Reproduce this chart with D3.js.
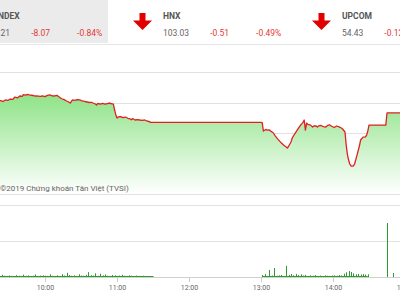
<!DOCTYPE html>
<html>
<head>
<meta charset="utf-8">
<script src="https://cdn.jsdelivr.net/npm/d3@7"></script>
<style>
  body { margin: 0; background: #fff; }
  svg { display: block; font-family: Roboto, "Noto Sans", sans-serif; }
</style>
</head>
<body>
<div id="chart"></div>
<script>
// header
const indexNames = ["VNINDEX", "HNX", "UPCOM"];
const indexValues = ["952.21", "103.03", "54.43"];
const indexChanges = ["-8.07", "-0.51", "-0.12"];
const indexPercents = ["-0.84%", "-0.49%", "-0.22%"];

// price line
const priceTimes = ["09:15","09:20","09:23","09:25","09:27","09:29","09:31","09:33","09:35","09:37",
  "09:39","09:41","09:42","09:44","09:45","09:47","09:50","09:52","09:53","09:56",
  "09:58","10:00","10:02","10:04","10:06","10:08","10:10","10:11","10:13","10:14",
  "10:16","10:18","10:19","10:21","10:22","10:23","10:25","10:27","10:29","10:31",
  "10:33","10:35","10:37","10:39","10:40","10:42","10:43","10:44","10:46","10:48",
  "10:50","10:52","10:54","10:55","10:57","10:58","10:59","11:00","11:01","11:03",
  "11:05","11:07","11:09","11:11","11:12","11:13","11:15","11:17","11:19","11:21",
  "11:23","11:25","11:27","11:28","11:30","13:00","13:01","13:02","13:04","13:05",
  "13:07","13:08","13:10","13:12","13:14","13:17","13:19","13:21","13:22","13:23",
  "13:25","13:26","13:28","13:31","13:33","13:35","13:36","13:37","13:38","13:39",
  "13:41","13:43","13:44","13:46","13:47","13:48","13:50","13:52","13:54","13:55",
  "13:57","13:59","14:01","14:03","14:05","14:07","14:08","14:10","14:11","14:12",
  "14:13","14:14","14:15","14:17","14:18","14:20","14:22","14:23","14:25","14:27",
  "14:28","14:29","14:30","14:44","14:45","15:00"];
const priceValues = [957.12,957.15,957.18,957.10,957.25,957.20,957.34,957.30,957.54,957.45,
  957.64,957.60,957.77,957.72,957.79,957.74,957.69,957.62,957.66,957.60,
  957.64,957.58,957.70,957.74,957.66,957.64,957.70,957.62,957.45,957.37,
  957.28,957.15,957.10,956.95,957.12,957.25,957.20,957.28,957.25,957.15,
  957.10,957.05,957.00,957.02,956.95,956.85,956.75,956.92,956.85,956.92,
  956.85,956.90,956.95,956.88,956.85,956.26,955.80,955.47,955.58,955.60,
  955.52,955.57,955.45,955.38,955.30,955.42,955.28,955.32,955.28,955.25,
  955.28,955.18,955.12,955.05,955.05,955.05,955.02,954.19,954.35,954.29,
  954.30,954.19,954.05,953.70,953.40,953.01,952.80,952.62,952.52,952.70,
  953.11,953.50,953.90,954.42,954.78,955.05,955.28,954.29,954.98,954.85,
  954.80,954.59,954.70,954.69,954.58,954.69,954.74,954.62,954.59,954.70,
  954.81,954.66,954.54,954.69,954.60,954.49,954.39,954.10,952.82,951.90,
  951.34,950.95,950.75,950.75,950.95,951.83,952.72,953.31,953.60,953.62,
  953.80,954.19,954.78,954.78,955.97,955.97];
const priceTicks = [960, 957, 954, 951, 948];

// volume (thousand shares), morning every 2 min from 09:16, afternoon every 2 min from 13:01
const volAMStart = "09:16";
const volAM = [90,60,80,50,120,70,60,90,60,50,100,
  70,60,130,60,90,50,70,140,60,80,
  90,70,60,150,70,60,90,60,160,80,
  230,110,70,90,60,150,80,70,120,270,
  100,80,200,70,180,90,140,70,60,110,
  90,60,80,120,70,60,90,70,50,80,
  60,50,70,40,50,40,30];
const volPMStart = "13:01";
const volPM = [110,160,60,390,80,500,70,90,110,60,
  620,120,160,90,170,110,150,80,120,60,
  90,70,110,60,80,50,90,70,60,80,
  90,70,110,80,180,260,330,280,200,150,
  170,140,160,130,150];
const volLateTimes = ["14:45", "14:50", "14:56"];
const volLate = [3000, 220, 220];
const volTicks = [0, 2000, 4000];

const timeTicks = ["10:00", "11:00", "12:00", "13:00", "14:00", "15:00"];

const toMin = s => { const p = s.split(":"); return +p[0] * 60 + +p[1]; };

const W = 400, H = 300;
const svg = d3.select("#chart").append("svg").attr("width", W).attr("height", H);

const x = d3.scaleLinear().domain([toMin("09:00"), toMin("15:00")]).range([-27, 405]);
const y = d3.scaleLinear().domain([948, 960]).range([194, 72]);
const yv = d3.scaleLinear().domain([0, 4000]).range([277, 205]);

// ---- header ----
const blockW = 179;
const head = svg.append("g");
head.append("rect").attr("x", -71).attr("y", 0).attr("width", blockW).attr("height", 43).attr("fill", "#ebebeb");
head.append("line").attr("x1", 0).attr("x2", W).attr("y1", 44.5).attr("y2", 44.5).attr("stroke", "#e6e6e6");

indexNames.forEach((name, i) => {
    const L = -71 + blockW * i;
    if (i > 0) {
        const cx = L + 34.5;
        head.append("path")
            .attr("d", `M${cx - 3},13 H${cx + 3} V20.5 H${cx + 9.5} L${cx},30 L${cx - 9.5},20.5 H${cx - 3} Z`)
            .attr("fill", "#e00000");
    }
    head.append("text").attr("x", L + 55).attr("y", 18.5)
        .attr("font-size", 8.5).attr("font-weight", "bold").attr("fill", "#555").text(name);
    const v = head.append("text").attr("x", L + 55).attr("y", 36)
        .attr("font-size", 8.5).attr("fill", "#666").text(indexValues[i]);
    const vEnd = L + 55 + v.node().getComputedTextLength();
    const c = head.append("text").attr("x", vEnd + 21).attr("y", 36)
        .attr("font-size", 8.5).attr("fill", "#e53935").text(indexChanges[i]);
    const cEnd = vEnd + 21 + c.node().getComputedTextLength();
    head.append("text").attr("x", cEnd + 27).attr("y", 36)
        .attr("font-size", 8.5).attr("fill", "#e53935").text(indexPercents[i]);
});

// ---- price chart ----
svg.append("g").selectAll("line").data(priceTicks).enter().append("line")
    .attr("x1", 0).attr("x2", W)
    .attr("y1", d => Math.round(y(d)) + 0.5).attr("y2", d => Math.round(y(d)) + 0.5)
    .attr("stroke", "#e2e2e2");

const prices = priceTimes.map((t, i) => ({ t: toMin(t), v: priceValues[i] }));

const grad = svg.append("defs").append("linearGradient").attr("id", "fillGrad")
    .attr("gradientUnits", "userSpaceOnUse")
    .attr("x1", 0).attr("x2", 0)
    .attr("y1", y(d3.max(priceValues))).attr("y2", y(948));
grad.append("stop").attr("offset", "0%").attr("stop-color", "#8fe388");
grad.append("stop").attr("offset", "100%").attr("stop-color", "#ffffff");

svg.append("path").datum(prices)
    .attr("fill", "url(#fillGrad)")
    .attr("d", d3.area().x(d => x(d.t)).y0(y(948)).y1(d => y(d.v)));

svg.append("path").datum(prices)
    .attr("fill", "none").attr("stroke", "#e02020").attr("stroke-width", 1.3)
    .attr("stroke-linejoin", "round")
    .attr("d", d3.line().x(d => x(d.t)).y(d => y(d.v)));

svg.append("text").attr("x", 0).attr("y", 191)
    .attr("font-size", 8).attr("fill", "#666")
    .text("©2019 Chứng khoán Tân Việt (TVSI)");

// ---- volume chart ----
svg.append("g").selectAll("line").data(volTicks).enter().append("line")
    .attr("x1", 0).attr("x2", W)
    .attr("y1", d => Math.round(yv(d)) + 0.5).attr("y2", d => Math.round(yv(d)) + 0.5)
    .attr("stroke", d => d === 0 ? "#d0d0d0" : "#e2e2e2");

const vols = [];
volAM.forEach((v, i) => vols.push({ t: toMin(volAMStart) + 2 * i, v }));
volPM.forEach((v, i) => vols.push({ t: toMin(volPMStart) + 2 * i, v }));
volLateTimes.forEach((t, i) => vols.push({ t: toMin(t), v: volLate[i] }));

const volG = svg.append("g").attr("stroke", "#2f9a2f").attr("stroke-width", 1);
[[volAMStart, volAM], [volPMStart, volPM]].forEach(([s, arr]) => {
    volG.append("line")
        .attr("x1", x(toMin(s))).attr("x2", x(toMin(s) + 2 * (arr.length - 1)))
        .attr("y1", yv(0) - 0.5).attr("y2", yv(0) - 0.5);
});
volG.selectAll(".bar").data(vols).enter().append("line").attr("class", "bar")
    .attr("x1", d => Math.round(x(d.t)) + 0.5).attr("x2", d => Math.round(x(d.t)) + 0.5)
    .attr("y1", yv(0)).attr("y2", d => yv(d.v));

// x axis
const ax = svg.append("g").selectAll("g").data(timeTicks).enter().append("g")
    .attr("transform", d => `translate(${Math.round(x(toMin(d))) + 0.5},0)`);
ax.append("line").attr("y1", yv(0)).attr("y2", yv(0) + 5).attr("stroke", "#ccc");
ax.append("text").attr("y", 290).attr("text-anchor", "middle")
    .attr("font-size", 7).attr("fill", "#666").text(d => d);
</script>
</body>
</html>
